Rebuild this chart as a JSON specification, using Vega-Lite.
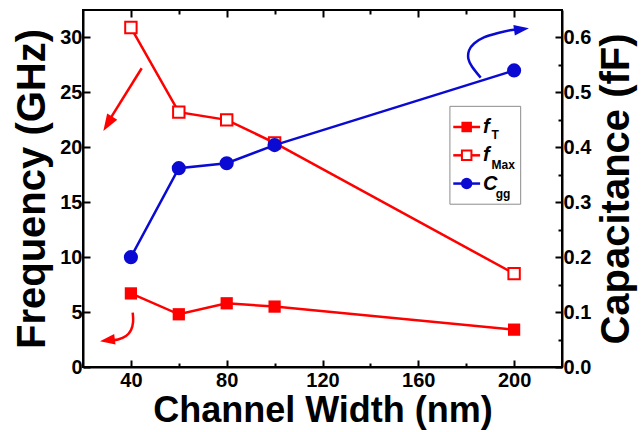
{
  "$schema": "https://vega.github.io/schema/vega-lite/v6.json",
  "width": 479,
  "height": 357,
  "autosize": {"type": "none"},
  "padding": {"left": 83, "top": 10, "right": 82, "bottom": 65},
  "background": "white",
  "config": {
    "font": "Liberation Sans",
    "view": {"stroke": "black", "strokeWidth": 2},
    "axis": {
      "grid": false,
      "domainColor": "black",
      "domainWidth": 2,
      "tickColor": "black",
      "tickWidth": 2,
      "labelFont": "Liberation Sans",
      "labelFontWeight": "bold",
      "labelFontSize": 20,
      "labelColor": "black",
      "titleFont": "Liberation Sans",
      "titleFontWeight": "bold",
      "titleColor": "black"
    }
  },
  "datasets": {
    "fT": [{"w": 40, "v": 6.7}, {"w": 60, "v": 4.8}, {"w": 80, "v": 5.8}, {"w": 100, "v": 5.5}, {"w": 200, "v": 3.4}],
    "fMax": [{"w": 40, "v": 30.9}, {"w": 60, "v": 23.2}, {"w": 80, "v": 22.5}, {"w": 100, "v": 20.4}, {"w": 200, "v": 8.5}],
    "Cgg": [{"w": 40, "v": 0.2}, {"w": 60, "v": 0.362}, {"w": 80, "v": 0.371}, {"w": 100, "v": 0.404}, {"w": 200, "v": 0.54}],
    "arrowA": [{"w": 44.5, "v": 27.2, "i": 0}, {"w": 30.8, "v": 22.4, "i": 1}],
    "arrowB": [{"w": 40.75, "v": 4.94, "i": 0}, {"w": 40.9, "v": 4.09, "i": 1}, {"w": 40.04, "v": 3.36, "i": 2}, {"w": 37.95, "v": 2.82, "i": 3}, {"w": 34.6, "v": 2.5, "i": 4}, {"w": 31.3, "v": 2.41, "i": 5}],
    "arrowC": [{"w": 186.05, "v": 26.34, "i": 0}, {"w": 182.4, "v": 27.36, "i": 1}, {"w": 180.9, "v": 28.06, "i": 2}, {"w": 181.2, "v": 28.82, "i": 3}, {"w": 183.3, "v": 29.45, "i": 4}, {"w": 187.4, "v": 30.0, "i": 5}, {"w": 193.3, "v": 30.4, "i": 6}, {"w": 199.1, "v": 30.68, "i": 7}, {"w": 203.0, "v": 30.75, "i": 8}],
    "one": [{"k": 1}]
  },
  "layer": [
    {
      "layer": [
        {"data": {"name": "fT"}, "mark": {"type": "line", "color": "#ff0000", "strokeWidth": 2.5},
         "encoding": {
          "x": {
            "field": "w",
            "type": "quantitative",
            "scale": {"domain": [20, 220], "nice": false, "zero": false},
            "axis": {
              "orient": "bottom",
              "title": "Channel Width (nm)",
              "titleFontSize": 36,
              "titlePadding": 3,
              "values": [40, 60, 80, 100, 120, 140, 160, 180, 200],
              "labelExpr": "datum.value % 40 === 0 ? datum.label : ''",
              "tickSize": {"condition": {"test": "datum.value % 40 === 0", "value": -7}, "value": -4},
              "labelPadding": 10
            }
          },
          "y": {
            "field": "v",
            "type": "quantitative",
            "scale": {"domain": [0, 32.5], "nice": false},
            "axis": {
              "orient": "left",
              "title": "Frequency (GHz)",
              "titleFontSize": 40,
              "titlePadding": 7,
              "values": [0, 2.5, 5, 7.5, 10, 12.5, 15, 17.5, 20, 22.5, 25, 27.5, 30],
              "labelExpr": "datum.value % 5 === 0 ? datum.label : ''",
              "tickSize": {"condition": {"test": "datum.value % 5 === 0", "value": -7}, "value": -4},
              "labelPadding": 8
            }
          }
        }},
        {"data": {"name": "arrowA"}, "mark": {"type": "line", "color": "#ff0000", "strokeWidth": 2.5},
         "encoding": {"x": {"field": "w", "type": "quantitative"}, "y": {"field": "v", "type": "quantitative"}, "order": {"field": "i"}}},
        {"data": {"name": "arrowB"}, "mark": {"type": "line", "color": "#ff0000", "strokeWidth": 2.5, "interpolate": "cardinal"},
         "encoding": {"x": {"field": "w", "type": "quantitative"}, "y": {"field": "v", "type": "quantitative"}, "order": {"field": "i"}}},
        {"data": {"name": "arrowC"}, "mark": {"type": "line", "color": "#0a0ad2", "strokeWidth": 2.5, "interpolate": "cardinal"},
         "encoding": {"x": {"field": "w", "type": "quantitative"}, "y": {"field": "v", "type": "quantitative"}, "order": {"field": "i"}}},
        {"data": {"name": "one"}, "mark": {"type": "point", "shape": "M0,-1L0.7,1L-0.7,1Z", "filled": true, "color": "#ff0000", "size": 289, "angle": 211.6, "opacity": 1},
         "encoding": {"x": {"datum": 30.35}, "y": {"datum": 22.14}}},
        {"data": {"name": "one"}, "mark": {"type": "point", "shape": "M0,-1L0.7,1L-0.7,1Z", "filled": true, "color": "#ff0000", "size": 225, "angle": 262.5, "opacity": 1},
         "encoding": {"x": {"datum": 30.2}, "y": {"datum": 2.43}}},
        {"data": {"name": "one"}, "mark": {"type": "point", "shape": "M0,-1L0.7,1L-0.7,1Z", "filled": true, "color": "#0a0ad2", "size": 225, "angle": 81.9, "opacity": 1},
         "encoding": {"x": {"datum": 203.1}, "y": {"datum": 30.75}}},
        {"data": {"name": "fT"}, "mark": {"type": "point", "shape": "square", "filled": true, "color": "#ff0000", "size": 150, "opacity": 1},
         "encoding": {"x": {"field": "w", "type": "quantitative"}, "y": {"field": "v", "type": "quantitative"}}},
        {"data": {"name": "fMax"}, "mark": {"type": "line", "color": "#ff0000", "strokeWidth": 2.5},
         "encoding": {"x": {"field": "w", "type": "quantitative"}, "y": {"field": "v", "type": "quantitative"}}},
        {"data": {"name": "fMax"}, "mark": {"type": "point", "shape": "square", "filled": false, "fill": "white", "stroke": "#ff0000", "strokeWidth": 2, "size": 130, "opacity": 1},
         "encoding": {"x": {"field": "w", "type": "quantitative"}, "y": {"field": "v", "type": "quantitative"}}},
        {"data": {"name": "one"}, "mark": {"type": "rect", "fill": "white", "stroke": "#8c8c8c", "strokeWidth": 1},
         "encoding": {"x": {"datum": 173.2}, "x2": {"datum": 202.75}, "y": {"datum": 23.73}, "y2": {"datum": 14.82}}},
        {"data": {"name": "one"}, "mark": {"type": "rule", "color": "#ff0000", "strokeWidth": 2.5},
         "encoding": {"x": {"datum": 174.6}, "x2": {"datum": 185.8}, "y": {"datum": 21.85}}},
        {"data": {"name": "one"}, "mark": {"type": "rule", "color": "#ff0000", "strokeWidth": 2.5},
         "encoding": {"x": {"datum": 174.6}, "x2": {"datum": 185.8}, "y": {"datum": 19.27}}},
        {"data": {"name": "one"}, "mark": {"type": "rule", "color": "#0a0ad2", "strokeWidth": 2.5},
         "encoding": {"x": {"datum": 174.6}, "x2": {"datum": 185.8}, "y": {"datum": 16.7}}},
        {"data": {"name": "one"}, "mark": {"type": "point", "shape": "square", "filled": true, "color": "#ff0000", "size": 110, "opacity": 1},
         "encoding": {"x": {"datum": 180.2}, "y": {"datum": 21.85}}},
        {"data": {"name": "one"}, "mark": {"type": "point", "shape": "square", "filled": false, "fill": "white", "stroke": "#ff0000", "strokeWidth": 2, "size": 90, "opacity": 1},
         "encoding": {"x": {"datum": 180.2}, "y": {"datum": 19.27}}},
        {"data": {"name": "one"}, "mark": {"type": "point", "shape": "circle", "filled": true, "color": "#0a0ad2", "size": 130, "opacity": 1},
         "encoding": {"x": {"datum": 180.2}, "y": {"datum": 16.7}}},
        {"data": {"name": "one"}, "mark": {"type": "text", "text": "f", "font": "Liberation Sans", "fontWeight": "bold", "fontStyle": "italic", "fontSize": 20, "align": "left", "baseline": "middle", "color": "black"},
         "encoding": {"x": {"datum": 187.0}, "y": {"datum": 21.85}}},
        {"data": {"name": "one"}, "mark": {"type": "text", "text": "T", "font": "Liberation Sans", "fontWeight": "bold", "fontSize": 12, "align": "left", "baseline": "middle", "dy": 8, "color": "black"},
         "encoding": {"x": {"datum": 190.6}, "y": {"datum": 21.85}}},
        {"data": {"name": "one"}, "mark": {"type": "text", "text": "f", "font": "Liberation Sans", "fontWeight": "bold", "fontStyle": "italic", "fontSize": 20, "align": "left", "baseline": "middle", "color": "black"},
         "encoding": {"x": {"datum": 187.0}, "y": {"datum": 19.27}}},
        {"data": {"name": "one"}, "mark": {"type": "text", "text": "Max", "font": "Liberation Sans", "fontWeight": "bold", "fontSize": 12, "align": "left", "baseline": "middle", "dy": 10, "color": "black"},
         "encoding": {"x": {"datum": 190.6}, "y": {"datum": 19.27}}},
        {"data": {"name": "one"}, "mark": {"type": "text", "text": "C", "font": "Liberation Sans", "fontWeight": "bold", "fontStyle": "italic", "fontSize": 20, "align": "left", "baseline": "middle", "color": "black"},
         "encoding": {"x": {"datum": 187.0}, "y": {"datum": 16.7}}},
        {"data": {"name": "one"}, "mark": {"type": "text", "text": "gg", "font": "Liberation Sans", "fontWeight": "bold", "fontSize": 12, "align": "left", "baseline": "middle", "dy": 10, "color": "black"},
         "encoding": {"x": {"datum": 192.3}, "y": {"datum": 16.7}}}
      ]
    },
    {
      "data": {"name": "Cgg"},
      "encoding": {
        "x": {
          "field": "w",
          "type": "quantitative",
          "scale": {"domain": [20, 220], "nice": false, "zero": false},
          "axis": {
            "orient": "top",
            "title": null,
            "labels": false,
            "domain": false,
            "values": [40, 60, 80, 100, 120, 140, 160, 180, 200],
            "tickSize": {"condition": {"test": "datum.value % 40 === 0", "value": -7}, "value": -4}
          }
        },
        "y": {
          "field": "v",
          "type": "quantitative",
          "scale": {"domain": [0, 0.65], "nice": false},
          "axis": {
            "orient": "right",
            "title": "Capacitance (fF)",
            "titleFontSize": 40,
            "titleAngle": 270,
            "titleBaseline": "top",
            "titlePadding": 6,
            "values": [0, 0.05, 0.1, 0.15, 0.2, 0.25, 0.3, 0.35, 0.4, 0.45, 0.5, 0.55, 0.6],
            "labelExpr": "round(datum.value * 100) % 10 === 0 ? format(datum.value, '.1f') : ''",
            "tickSize": {"condition": {"test": "round(datum.value * 100) % 10 === 0", "value": -7}, "value": -4},
            "labelPadding": 8
          }
        }
      },
      "layer": [
        {"mark": {"type": "line", "color": "#0a0ad2", "strokeWidth": 2.5}},
        {"mark": {"type": "point", "shape": "circle", "filled": true, "color": "#0a0ad2", "size": 200, "opacity": 1}}
      ]
    }
  ],
  "resolve": {"scale": {"y": "independent"}, "axis": {"x": "independent"}}
}
